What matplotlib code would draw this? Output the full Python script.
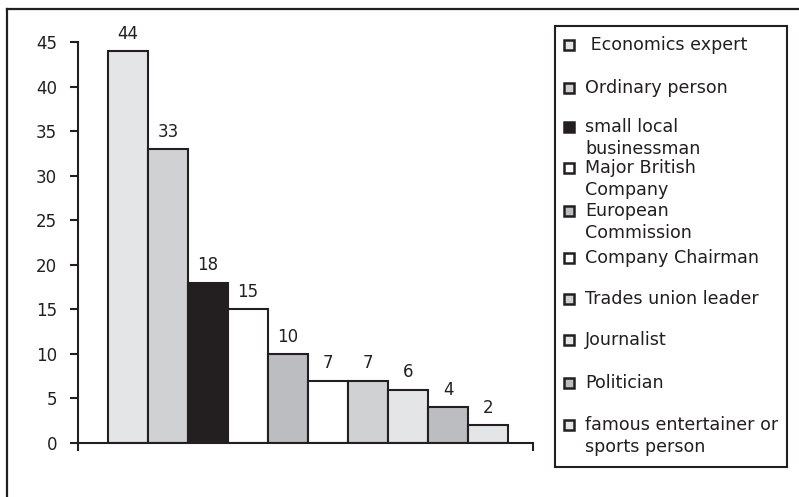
import matplotlib
matplotlib.use("Agg")
import matplotlib.pyplot as plt
from matplotlib.patches import Rectangle
from matplotlib.lines import Line2D

plt.rcParams.update({"font.family": ["DejaVu Sans"],
                     "font.size": 12})

# ── data ─────────────────────────────────────────────────────────────────────
categories = ["Economics expert", "Ordinary person", "small local\nbusinessman",
              "Major British\nCompany", "European\nCommission", "Company Chairman",
              "Trades union leader", "Journalist", "Politician",
              "famous entertainer or\nsports person"]
values = [44, 33, 18, 15, 10, 7, 7, 6, 4, 2]
colours = ["#e4e5e7", "#d0d1d3", "#231f20", "#ffffff", "#bcbdc0",
           "#ffffff", "#d0d1d3", "#e4e5e7", "#bcbdc0", "#e4e5e7"]
yticks = [0, 5, 10, 15, 20, 25, 30, 35, 40, 45]

INK = "#231f20"
W, H = 799, 497

fig = plt.figure(figsize=(W / 100, H / 100), dpi=100)

# outer frame (clipped on right / bottom in the original)
fig.add_artist(Line2D([7 / W, 1.0], [1 - 9 / H, 1 - 9 / H], color=INK, lw=1.6,
                      transform=fig.transFigure))
fig.add_artist(Line2D([7 / W, 7 / W], [1 - 9 / H, 0.0], color=INK, lw=1.6,
                      transform=fig.transFigure))

# ── bars ─────────────────────────────────────────────────────────────────────
ax = fig.add_axes([78 / W, 1 - 443 / H, (533 - 78) / W, (443 - 42) / H])
x = list(range(len(values)))
bars = ax.bar(x, values, width=1.0, color=colours, edgecolor=INK, linewidth=1.5)
for xi, v in zip(x, values):
    ax.annotate(f"{v}", (xi, v), xytext=(0, 6), textcoords="offset points",
                ha="center", va="bottom", fontsize=12, color=INK)

ax.set_xlim(-1.25, 10.125)
ax.set_ylim(0, 45)
ax.set_yticks(yticks)
ax.set_xticks([-1.25, 10.125])
ax.set_xticklabels([])
ax.tick_params(axis="both", direction="out", length=6, width=1.5, color=INK,
               labelcolor=INK, labelsize=12)
ax.tick_params(axis="y", pad=9)
for s in ["top", "right"]:
    ax.spines[s].set_visible(False)
for s in ["left", "bottom"]:
    ax.spines[s].set_linewidth(1.5)
    ax.spines[s].set_color(INK)

# ── legend (drawn in pixel coords) ───────────────────────────────────────────
lx0, ly0, lx1, ly1 = 555, 26, 787, 467
lg = fig.add_axes([lx0 / W, 1 - ly1 / H, (lx1 - lx0) / W, (ly1 - ly0) / H])
lg.set_xlim(lx0, lx1)
lg.set_ylim(ly1, ly0)
lg.set_xticks([])
lg.set_yticks([])
for s in lg.spines.values():
    s.set_linewidth(1.5)
    s.set_color(INK)

row_y = [45, 88, 127, 168, 211, 258, 299, 340, 383, 425]
labels = [" " + categories[0]] + categories[1:]
for y0, lab, col in zip(row_y, labels, colours):
    lg.add_patch(Rectangle((564, y0 - 5), 10, 10, facecolor=col,
                           edgecolor=INK, linewidth=1.8))
    for i, line in enumerate(lab.split("\n")):
        lg.text(585, y0 + i * 22, line, ha="left", va="center",
                fontsize=12.6, color=INK)

fig.savefig("out.png", dpi=100)
